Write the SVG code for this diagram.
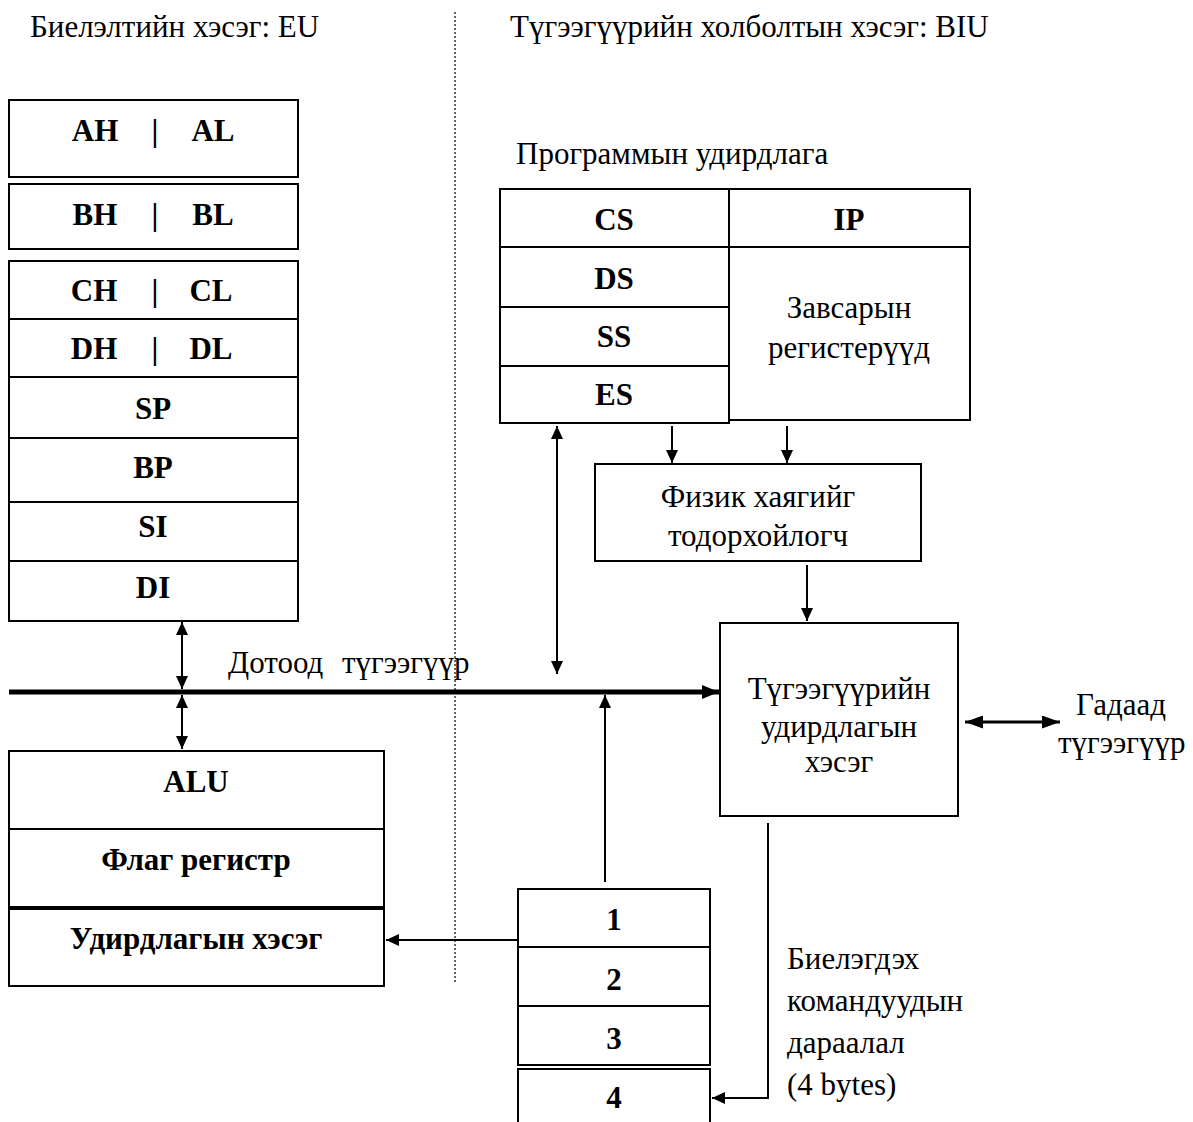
<svg xmlns="http://www.w3.org/2000/svg" width="1193" height="1122" viewBox="0 0 1193 1122">
<style>
.box{fill:#fff;stroke:#000;stroke-width:2}
.t{font-family:"Liberation Serif","Times New Roman",serif;font-size:31px;fill:#000}
.h{font-family:"Liberation Serif","Times New Roman",serif;font-size:31px;fill:#000}
.b{font-family:"Liberation Serif","Times New Roman",serif;font-size:31px;font-weight:bold;fill:#000;text-anchor:middle}
.c{text-anchor:middle}
.ln{stroke:#000;stroke-width:2;fill:none}
</style>
<defs>
<marker id="ah" viewBox="0 0 13 12" refX="13" refY="6" markerWidth="13" markerHeight="12" markerUnits="userSpaceOnUse" orient="auto-start-reverse"><path d="M0,0 L13,6 L0,12 z" fill="#000"/></marker>
<marker id="ahx" viewBox="0 0 18 13" refX="18" refY="6.5" markerWidth="18" markerHeight="13" markerUnits="userSpaceOnUse" orient="auto-start-reverse"><path d="M0,0 L18,6.5 L0,13 z" fill="#000"/></marker>
<marker id="ahb" viewBox="0 0 17 14" refX="17" refY="7" markerWidth="17" markerHeight="14" markerUnits="userSpaceOnUse" orient="auto"><path d="M0,0 L17,7 L0,14 z" fill="#000"/></marker>
</defs>

<line x1="455" y1="12" x2="455" y2="982" stroke="#000" stroke-width="1.2" stroke-dasharray="2,2"/>
<text class="h" x="30" y="37">Биелэлтийн хэсэг: EU</text>
<text class="h" x="510" y="37">Түгээгүүрийн холболтын хэсэг: BIU</text>

<g id="reg-a"><rect class="box" x="9" y="100" width="289" height="77"/><text class="b" x="95" y="141">AH</text><text class="b" x="155" y="141">|</text><text class="b" x="213" y="141">AL</text></g>
<g id="reg-b"><rect class="box" x="9" y="184" width="289" height="65"/><text class="b" x="95" y="225">BH</text><text class="b" x="155" y="225">|</text><text class="b" x="213" y="225">BL</text></g>
<g id="reg-c"><rect class="box" x="9" y="261" width="289" height="58"/><text class="b" x="94" y="301">CH</text><text class="b" x="155" y="301">|</text><text class="b" x="211" y="301">CL</text></g>
<g id="reg-d"><rect class="box" x="9" y="319" width="289" height="58"/><text class="b" x="94" y="359">DH</text><text class="b" x="155" y="359">|</text><text class="b" x="211" y="359">DL</text></g>
<g id="reg-sp"><rect class="box" x="9" y="377" width="289" height="61"/><text class="b" x="153" y="419">SP</text></g>
<g id="reg-bp"><rect class="box" x="9" y="438" width="289" height="64"/><text class="b" x="153" y="478">BP</text></g>
<g id="reg-si"><rect class="box" x="9" y="502" width="289" height="59"/><text class="b" x="153" y="537">SI</text></g>
<g id="reg-di"><rect class="box" x="9" y="561" width="289" height="60"/><text class="b" x="153" y="598">DI</text></g>

<text class="t" x="516" y="164">Программын удирдлага</text>
<g id="seg-cs"><rect class="box" x="500" y="189" width="229" height="58"/><text class="b" x="614" y="230">CS</text></g>
<g id="seg-ds"><rect class="box" x="500" y="247" width="229" height="60"/><text class="b" x="614" y="289">DS</text></g>
<g id="seg-ss"><rect class="box" x="500" y="307" width="229" height="59"/><text class="b" x="614" y="347">SS</text></g>
<g id="seg-es"><rect class="box" x="500" y="366" width="229" height="57"/><text class="b" x="614" y="405">ES</text></g>
<g id="ip"><rect class="box" x="729" y="189" width="241" height="58"/><text class="b" x="849" y="230">IP</text></g>
<g id="aux"><rect class="box" x="729" y="247" width="241" height="173"/><text class="t c" x="849" y="318">Завсарын</text><text class="t c" x="849" y="358">регистерүүд</text></g>

<g id="phys"><rect class="box" x="595" y="464" width="326" height="97"/><text class="t c" x="758" y="507">Физик хаягийг</text><text class="t c" x="758" y="546">тодорхойлогч</text></g>
<g id="busctl"><rect class="box" x="720" y="623" width="238" height="193"/><text class="t c" x="839" y="699">Түгээгүүрийн</text><text class="t c" x="839" y="737">удирдлагын</text><text class="t c" x="839" y="772">хэсэг</text></g>

<g id="alu"><rect class="box" x="9" y="751" width="375" height="78"/><text class="b" x="196" y="792">ALU</text></g>
<g id="flag"><rect class="box" x="9" y="829" width="375" height="78"/><text class="b" x="196" y="870">Флаг регистр</text></g>
<g id="ctl"><rect class="box" x="9" y="909" width="375" height="77"/><text class="b" x="196" y="949">Удирдлагын хэсэг</text></g>

<g id="queue">
<rect class="box" x="518" y="889" width="192" height="58"/><text class="b" x="614" y="930">1</text>
<rect class="box" x="518" y="947" width="192" height="59"/><text class="b" x="614" y="990">2</text>
<rect class="box" x="518" y="1006" width="192" height="59"/><text class="b" x="614" y="1049">3</text>
<path class="ln" d="M518,1130 V1069 H710 V1130"/><text class="b" x="614" y="1108">4</text>
</g>

<g id="labels">
<text class="t" x="228" y="673">Дотоод<tspan x="342">түгээгүүр</tspan></text>
<text class="t" x="1076" y="715">Гадаад</text>
<text class="t" x="1058" y="753">түгээгүүр</text>
<text class="t" x="787" y="969">Биелэгдэх</text>
<text class="t" x="787" y="1011">командуудын</text>
<text class="t" x="787" y="1053">дараалал</text>
<text class="t" x="787" y="1095">(4 bytes)</text>
</g>

<g id="connectors">
<line x1="9" y1="692" x2="719" y2="692" stroke="#000" stroke-width="5" marker-end="url(#ahb)"/>
<line class="ln" x1="182" y1="622" x2="182" y2="689" marker-start="url(#ah)" marker-end="url(#ah)"/>
<line class="ln" x1="182" y1="695" x2="182" y2="749" marker-start="url(#ah)" marker-end="url(#ah)"/>
<line class="ln" x1="557" y1="426" x2="557" y2="674" marker-start="url(#ah)" marker-end="url(#ah)"/>
<line class="ln" x1="672" y1="426" x2="672" y2="463" marker-end="url(#ah)"/>
<line class="ln" x1="787" y1="426" x2="787" y2="463" marker-end="url(#ah)"/>
<line class="ln" x1="807" y1="565" x2="807" y2="621" marker-end="url(#ah)"/>
<line class="ln" x1="605" y1="882" x2="605" y2="695" marker-end="url(#ah)"/>
<line class="ln" x1="518" y1="940" x2="386" y2="940" marker-end="url(#ah)"/>
<path class="ln" d="M768,823 V1098 H712" marker-end="url(#ah)"/>
<line x1="965" y1="722" x2="1060" y2="722" stroke="#000" stroke-width="3" marker-start="url(#ahx)" marker-end="url(#ahx)"/>
</g>
</svg>
